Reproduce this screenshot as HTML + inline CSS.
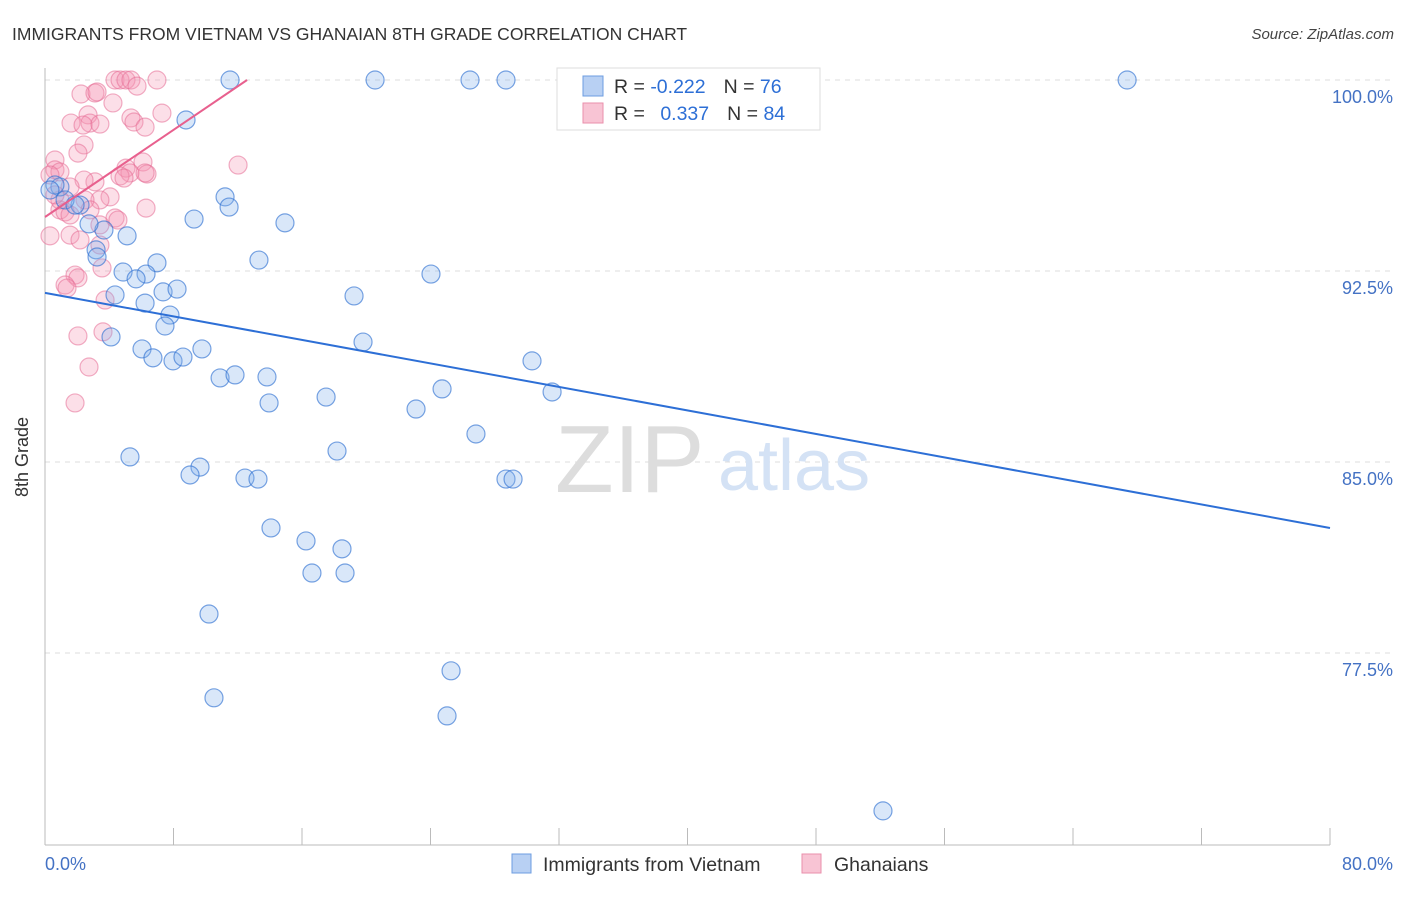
<!DOCTYPE html>
<html><head><meta charset="utf-8"><style>
body{margin:0;background:#fff;font-family:"Liberation Sans",sans-serif}
svg text{font-family:"Liberation Sans",sans-serif}
</style></head><body>
<svg id="chart" width="1406" height="892">
<text x="12" y="40" font-size="17.5" fill="#333">IMMIGRANTS FROM VIETNAM VS GHANAIAN 8TH GRADE CORRELATION CHART</text>
<text x="1394" y="39" font-size="15" fill="#444" text-anchor="end" font-style="italic">Source: ZipAtlas.com</text>
<g id="grid"></g>
<g><text x="555" y="492" font-size="96" font-family="Liberation Serif" fill="#ddd">ZIP</text><text x="718" y="490" font-size="72" fill="#d4e2f5">atlas</text></g>
<line x1="45" y1="68" x2="45" y2="845" stroke="#bbb"/>
<line x1="45" y1="845" x2="1330" y2="845" stroke="#bbb"/>
<text x="28" y="457" font-size="18" fill="#333" text-anchor="middle" transform="rotate(-90 28 457)">8th Grade</text>
<text x="45" y="870" font-size="18" fill="#4472c4">0.0%</text>
<text x="1393" y="870" font-size="18" fill="#4472c4" text-anchor="end">80.0%</text>
<g id="marks"></g>
<g>
<rect x="557" y="68" width="263" height="62" fill="#fff" stroke="#ddd"/>
<rect x="583" y="76" width="20" height="20" fill="#b8d0f3" stroke="#6d9de0"/>
<rect x="583" y="103" width="20" height="20" fill="#f8c4d4" stroke="#ea8fab"/>
<text x="614" y="93" font-size="19.5" fill="#333">R = <tspan fill="#2d6fd6">-0.222</tspan><tspan dx="18">N = </tspan><tspan fill="#2d6fd6">76</tspan></text>
<text x="614" y="120" font-size="19.5" fill="#333">R = <tspan dx="10" fill="#2d6fd6">0.337</tspan><tspan dx="18">N = </tspan><tspan fill="#2d6fd6">84</tspan></text>
</g>
<g>
<rect x="512" y="854" width="19" height="19" fill="#b8d0f3" stroke="#6d9de0"/>
<text x="543" y="871" font-size="19.5" fill="#333">Immigrants from Vietnam</text>
<rect x="802" y="854" width="19" height="19" fill="#f8c4d4" stroke="#ea8fab"/>
<text x="834" y="871" font-size="19.5" fill="#333">Ghanaians</text>
</g>
</svg>
<script>
const yTicks=[100,92.5,85,77.5];
const yTickLabels=["100.0%","92.5%","85.0%","77.5%"];
const xTicks=[0,8,16,24,32,40,48,56,64,72,80];
const blueX=[11.52,20.55,26.46,28.70,67.37,43.15,8.78,11.21,11.46,9.28,14.94,5.11,3.67,2.74,2.18,0.93,0.62,0.31,1.25,1.87,3.18,3.24,13.32,6.97,4.86,6.29,5.67,4.36,7.35,8.22,6.23,7.78,7.47,4.11,19.24,24.03,19.80,6.04,6.72,7.97,8.59,9.77,30.32,10.90,11.83,13.82,24.72,31.57,13.95,17.50,23.10,26.83,18.18,5.29,9.65,9.03,12.45,13.26,28.70,29.14,14.07,16.25,18.49,16.62,18.68,10.21,25.28,10.52,25.03,52.17];
const blueY=[100,100,100,100,100,100,98.43,95.41,95.01,94.54,94.39,93.88,94.11,94.35,95.09,95.80,95.88,95.68,95.29,95.09,93.33,93.05,92.93,92.82,92.46,92.38,92.19,91.56,91.68,91.79,91.24,90.77,90.34,89.91,91.52,92.38,89.71,89.44,89.09,88.97,89.12,89.44,88.97,88.30,88.42,88.34,87.87,87.75,87.32,87.55,87.08,86.10,85.43,85.20,84.80,84.49,84.37,84.33,84.33,84.33,82.41,81.90,81.59,80.64,80.64,79.03,76.80,75.74,75.03,71.30];
const pinkX=[4.36,4.67,5.04,5.35,6.97,5.73,2.24,3.11,3.24,4.23,2.68,2.80,1.62,2.37,3.42,5.35,5.54,6.23,7.28,2.43,2.05,0.62,12.02,6.10,5.04,5.29,4.67,6.35,4.92,3.11,2.43,0.62,0.93,0.31,1.56,4.05,3.42,2.49,0.93,1.25,1.56,6.29,4.36,3.42,0.31,1.56,2.18,3.42,1.87,2.05,1.25,1.37,3.74,3.61,2.05,2.74,1.87,0.93,2.80,0.62,4.54,6.23,3.55];
const pinkY=[100,100,100,100,100,99.76,99.45,99.49,99.53,99.10,98.63,98.31,98.31,98.23,98.27,98.51,98.35,98.15,98.70,97.45,97.13,96.86,96.66,96.78,96.54,96.35,96.23,96.31,96.15,96.00,96.07,96.47,96.39,96.27,95.80,95.41,95.29,95.29,94.90,94.82,94.70,94.97,94.58,94.31,93.88,93.91,93.72,93.52,92.34,92.23,91.95,91.83,91.36,90.11,89.95,88.73,87.32,95.29,94.90,95.49,94.50,96.35,92.62];
const blueTrend=[91.64,82.41];
const pinkTrend=[94.62,100,12.58];
const NS="http://www.w3.org/2000/svg";
const xs=v=>45+v/80*1285;
const ys=v=>80+(100-v)/7.5*191;
function mk(tag,attrs,parent){const e=document.createElementNS(NS,tag);for(const k in attrs)e.setAttribute(k,attrs[k]);parent.appendChild(e);return e;}
const grid=document.getElementById('grid'),marks=document.getElementById('marks');
yTicks.forEach((t,i)=>{
 const l=mk('line',{x1:45,x2:1393,y1:ys(t),y2:ys(t),stroke:'#ddd','stroke-dasharray':'5,5'},grid);
 
 
 const tx=mk('text',{x:1393,y:ys(t)+23,'font-size':18,fill:'#4472c4','text-anchor':'end'},grid);
 tx.textContent=yTickLabels[i];
 
 
});
xTicks.forEach(t=>{
 const l=mk('line',{x1:xs(t),x2:xs(t),y1:828,y2:845,stroke:'#bbb'},grid);
 
 
});
pinkX.forEach((v,i)=>{
 const c=mk('circle',{cx:xs(v),cy:ys(pinkY[i]),r:9,fill:'rgba(244,150,180,0.3)',stroke:'rgba(230,110,150,0.55)','stroke-width':1.2},marks);
 
 
});
blueX.forEach((v,i)=>{
 const c=mk('circle',{cx:xs(v),cy:ys(blueY[i]),r:9,fill:'rgba(130,175,235,0.3)',stroke:'rgba(50,115,210,0.65)','stroke-width':1.2},marks);
 
 
});
const bl=mk('line',{x1:xs(0),y1:ys(blueTrend[0]),x2:xs(80),y2:ys(blueTrend[1]),stroke:'#2d6fd6','stroke-width':2},marks);


const pl=mk('line',{x1:xs(0),y1:ys(pinkTrend[0]),x2:xs(pinkTrend[2]),y2:ys(pinkTrend[1]),stroke:'#e8608e','stroke-width':2},marks);


</script>
</body></html>
